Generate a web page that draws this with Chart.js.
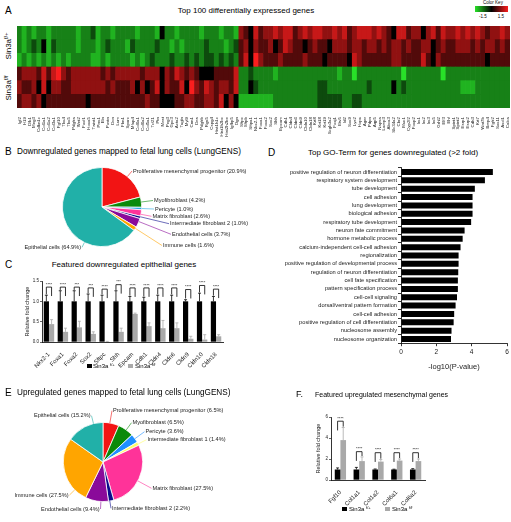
<!DOCTYPE html>
<html>
<head>
<meta charset="utf-8">
<script src="https://cdn.jsdelivr.net/npm/chart.js@4.4.1/dist/chart.umd.min.js"></script>
<style>
  body { margin: 0; background: #fff; }
  #page { position: relative; width: 511px; height: 522px; overflow: hidden; font-family: "Liberation Sans", Arial, sans-serif; color: #000; }
  .t { position: absolute; white-space: nowrap; transform: translateY(-50%); line-height: 1; color: #000; }
  .c { transform: translate(-50%, -50%); }
  .rot { transform: translate(-50%, -50%) rotate(-90deg); }
  canvas { position: absolute; }
  .letter { font-size: 10px; }
  .title { font-size: 8px; }
  .leg { font-size: 6px; }
  sup { font-size: 70%; vertical-align: 0.5em; line-height: 0; }
  .sw { position: absolute; width: 5px; height: 4px; }
</style>
</head>
<body>
<div id="page">
  <!-- Panel A -->
  <div class="t letter" style="left:5px;top:11px">A</div>
  <div class="t title c" style="left:246px;top:11px">Top 100 differentially expressed genes</div>
  <div class="t c" style="left:493px;top:2.5px;font-size:4.5px">Color Key</div>
  <div style="position:absolute;left:475px;top:6px;width:33px;height:6px;background:linear-gradient(to right, rgb(40,225,40), #000 50%, rgb(250,30,30))"></div>
  <div class="t c" style="left:483px;top:17px;font-size:4.5px">-1.5</div>
  <div class="t c" style="left:501px;top:17px;font-size:4.5px">1.5</div>
  <div class="t rot" style="left:9px;top:46px;font-size:8px">Sin3a<sup>f/+</sup></div>
  <div class="t rot" style="left:9px;top:88px;font-size:8px">Sin3a<sup>f/f</sup></div>
  <canvas id="heatChart" width="494" height="120" style="left:17px;top:26px"></canvas>

  <!-- Panel B -->
  <div class="t letter" style="left:5px;top:152px">B</div>
  <div class="t title" style="left:17px;top:152px;font-size:8.2px">Downregulated genes mapped to fetal lung cells (LungGENS)</div>
  <canvas id="pieB" width="260" height="100" style="left:0;top:158px"></canvas>

  <!-- Panel C -->
  <div class="t letter" style="left:5px;top:265px">C</div>
  <div class="t title c" style="left:124px;top:265px">Featured downregulated epithelial genes</div>
  <canvas id="epiChart" width="232" height="96" style="left:0;top:272px"></canvas>
  <div class="sw" style="left:87px;top:364px;background:#000"></div>
  <div class="t leg" style="left:93px;top:366px">Sin3a <sup>f/+</sup></div>
  <div class="sw" style="left:128px;top:364px;background:#a9a9a9"></div>
  <div class="t leg" style="left:135px;top:366px">Sin3a <sup>f/f</sup></div>

  <!-- Panel D -->
  <div class="t letter" style="left:268px;top:153px">D</div>
  <div class="t title c" style="left:393px;top:153px">Top GO-Term for genes downregulated (&gt;2 fold)</div>
  <canvas id="goChart" width="253" height="215" style="left:258px;top:160px"></canvas>

  <!-- Panel E -->
  <div class="t letter" style="left:5px;top:393px">E</div>
  <div class="t title" style="left:17px;top:393px;font-size:8.2px">Upregulated genes mapped to fetal lung cells (LungGENS)</div>
  <canvas id="pieE" width="260" height="122" style="left:0;top:400px"></canvas>

  <!-- Panel F -->
  <div class="t" style="left:296px;top:394px;font-size:9px">F.</div>
  <div class="t title" style="left:315px;top:394px;font-size:7px">Featured upregulated mesenchymal genes</div>
  <canvas id="mesChart" width="130" height="100" style="left:300px;top:408px"></canvas>
  <div class="sw" style="left:342px;top:507px;background:#000"></div>
  <div class="t leg" style="left:349px;top:509px">Sin3a <sup>f/+</sup></div>
  <div class="sw" style="left:385px;top:507px;background:#a9a9a9"></div>
  <div class="t leg" style="left:392px;top:509px">Sin3a <sup>f/f</sup></div>
</div>

<script>
// ---------- Panel A: heatmap (digit 0..8 = -1.5..1.5) ----------
const heatGenes = ['Igf2', 'H19', 'Dlk1', 'Meg3', 'Cdkn1c', 'Col1a1', 'Col1a2', 'Col3a1', 'Fgf10', 'Tbx4',
    'Tbx5', 'Pdgfra', 'Wnt2', 'Foxf1', 'Hoxa5', 'Twist1', 'Prrx1', 'Eln', 'Postn', 'Dcn',
    'Lum', 'Fbn1', 'Sparc', 'Mfap4', 'Col6a1', 'Col6a2', 'Col5a1', 'Tcf21', 'Ptn', 'Mest',
    'Peg3', 'Gpc3', 'Acta2', 'Tagln', 'Myl9', 'Cnn1', 'Des', 'Pdgfrb', 'Rgs5', 'Cspg4',
    'Hist1h1c', 'Hist1h2bc', 'Hist2h2be', 'Igfbp5', 'Ogn',
    'Sftpc', 'Sftpb', 'Sftpa1', 'Nkx2-1', 'Foxa1', 'Foxa2', 'Sox2', 'Shh', 'Epcam', 'Cdh1',
    'Cldn4', 'Cldn6', 'Cldn9', 'Cldn10', 'Cldn18', 'Krt8', 'Krt18', 'Krt19', 'Scgb3a2', 'Foxj1',
    'Etv5', 'Id2', 'Sox9', 'Lyz2', 'Hopx', 'Ager', 'Pdpn', 'Aqp5', 'Napsa', 'Lamp3',
    'Abca3', 'Slc34a2', 'Cbr2', 'Muc1', 'Cyp2f2', 'Foxp2', 'Irx1', 'Irx2', 'Irx3', 'Irx5',
    'Grhl2', 'Elf3', 'Ehf', 'Spint1', 'Spint2', 'Esrp1', 'Esrp2', 'Cdh3', 'Krt7', 'Wnt7b',
    'Bmp4', 'Fgfr2', 'Sox11', 'Ascl1', 'Calca'];
const heatRow1 = '2121221222 2212231221 2222122214 2212222122 2122165475 6676775676 7766767567 7767654775 6646757667 6767656676';
const heatRow2 = '2123241322 2212221232 2213222232 2121222232 2212356465 5645765545 6554666566 5665656656 5566456556 6656566565';
const heatRow3 = '1212121212 1222211212 2221212322 2322323233 2323257486 5556555565 5545555476 5555556655 5575465555 5555545555';
const heatRow4 = '5666575786 5666666565 6666656664 6576565444 5555722322 2212222222 2222212202 2222222202 2222220222 2222222222';
const heatRow5 = '6556474665 5666666656 5556464574 6557486576 5665722432 2222222222 2332222222 2322224232 2222222222 1112222222';
const heatRow6 = '5665645555 5555455555 5555556554 4455665566 5746411111 1122222222 2333332233 2222222222 2222222222 2222222222';

// ---------- Panel B: downregulated genes ----------
const downCells = ['Proliferative mesenchymal progenitor', 'Myofibroblast', 'Pericyte', 'Matrix fibroblast',
    'Intermediate fibroblast 2', 'Endothelial cells', 'Immune cells', 'Epithelial cells'];
const downShares = [20.9, 4.2, 1.0, 2.6, 1.0, 3.7, 1.6, 64.9];

// ---------- Panel C: epithelial genes ----------
const epiGenes = ['Nkx2-1', 'Foxa1', 'Foxa2', 'Sox2', 'Sftpc', 'Shh', 'Epcam', 'Cdh1', 'Cldn4', 'Cldn6', 'Cldn9', 'Cldn10', 'Cldn18'];
const epiHet = [1, 1, 1, 1, 1, 1, 1, 1, 1, 1, 1, 1, 1];
const epiHetErr = [0.15, 0.26, 0.26, 0.18, 0.15, 0.26, 0.12, 0.1, 0.15, 0.15, 0.04, 0.2, 0.12];
const epiKo = [0.44, 0.25, 0.36, 0.2, 0.01, 0.25, 0.69, 0.39, 0.34, 0.34, 0.08, 0.06, 0.14];
const epiKoErr = [0.11, 0.09, 0.15, 0.05, 0.005, 0.09, 0.02, 0.08, 0.19, 0.13, 0.06, 0.12, 0.04];
const epiBracket = [1.35, 1.35, 1.35, 1.33, 1.3, 1.41, 1.33, 1.33, 1.33, 1.33, 1.29, 1.39, 1.3];
const epiStars = ['****', '****', '***', '***', '****', '***', '****', '****', '****', '****', '****', '****', '****'];
const epiTicks = [0, 0.5, 1.0, 1.5];

// ---------- Panel D: GO terms ----------
const goTerms = ['positive regulation of neuron differentiation', 'respiratory system development', 'tube development',
    'cell adhesion', 'lung development', 'biological adhesion', 'respiratory tube development', 'neuron fate commitment',
    'hormone metabolic process', 'calcium-independent cell-cell adhesion', 'regionalization',
    'positive regulation of developmental process', 'regulation of neuron differentiation', 'cell fate specification',
    'pattern specification process', 'cell-cell signaling', 'dorsal/ventral pattern formation', 'cell-cell adhesion',
    'positive regulation of cell differentiation', 'nucleosome assembly', 'nucleosome organization'];
const goScores = [5.2, 4.75, 4.18, 4.05, 4.05, 4.05, 3.97, 3.6, 3.49, 3.37, 3.26, 3.26, 3.24, 3.22, 3.22, 3.17, 3.09, 3.01, 2.98, 2.86, 2.83];
const goTicks = [0, 2, 4, 6];

// ---------- Panel E: upregulated genes ----------
const upCells = ['Proliferative mesenchymal progenitor', 'Myofibroblast', 'Pericyte', 'Intermediate fibroblast 1',
    'Matrix fibroblast', 'Intermediate fibroblast 2', 'Endothelial cells', 'Immune cells', 'Epithelial cells'];
const upShares = [6.5, 6.5, 3.6, 1.4, 27.5, 2.2, 9.4, 27.5, 15.2];

// ---------- Panel F: mesenchymal genes ----------
const mesGenes = ['Fgf10', 'Col1a1', 'Col1a2', 'Col6a1', 'Col6a2'];
const mesHet = [1, 1, 1, 1, 1];
const mesHetErr = [0.15, 0.2, 0.05, 0.03, 0.08];
const mesKo = [3.8, 1.8, 1.75, 1.85, 1.8];
const mesKoErr = [1.2, 0.4, 0.2, 0.15, 0.2];
const mesBracket = [5.6, 2.7, 2.6, 2.6, 2.6];
const mesStars = ['****', '****', '****', '****', '****'];
const mesTicks = [0, 2, 4, 6];

// ---------- styles / layout ----------
const downColors = ['#f21414', '#0a8a0a', '#2aa9e0', '#ff3399', '#0a0a8c', '#8a0a9a', '#ffa500', '#21b0a8'];
const downAnchors = [[133, 171, 'left'], [154, 200.5, 'left'], [155, 209, 'left'], [152.5, 216.3, 'left'],
    [170, 223.7, 'left'], [172, 234.3, 'left'], [163, 245.5, 'left'], [81, 247.3, 'right']];
const upColors = ['#f21414', '#0a8a0a', '#1e90ff', '#ffff66', '#ff3399', '#0a0a8c', '#8a0a9a', '#ffa500', '#21b0a8'];
const upAnchors = [[113, 410.7, 'left'], [132.5, 422.7, 'left'], [145.5, 431.7, 'left'], [147.5, 439.7, 'left'],
    [152.5, 488.3, 'left'], [112, 508.3, 'left'], [99.5, 509, 'right'], [68.5, 495, 'right'], [90.5, 415.7, 'right']];

Chart.defaults.font.family = '"Liberation Sans", Arial, sans-serif';
Chart.defaults.color = '#222';

function heatColor(d) {
    const v = (d - 4) / 4;
    const k = Math.pow(Math.abs(v), 0.8);
    if (v < 0) return `rgb(${Math.round(k * 40)},${Math.round(k * 225)},${Math.round(k * 40)})`;
    return `rgb(${Math.round(k * 250)},${Math.round(k * 30)},${Math.round(k * 30)})`;
}

// fixed axis box size so chart areas land where the figure has them
function fixSize(size) {
    return function(scale) {
        if (scale.isHorizontal()) scale.height = size; else scale.width = size;
        scale.paddingTop = scale.paddingBottom = scale.paddingLeft = scale.paddingRight = 0;
    };
}

function useTicks(list) {
    return function(scale) { scale.ticks = list.map(v => ({ value: v })); };
}

// Error bars (upper only) and significance brackets
const errorBarPlugin = {
    id: 'errorBars',
    afterDatasetsDraw(chart, args, opts) {
        const { ctx } = chart;
        const y = chart.scales.y;
        ctx.save();
        ctx.lineWidth = 0.8;
        chart.data.datasets.forEach((ds, di) => {
            const meta = chart.getDatasetMeta(di);
            ctx.strokeStyle = ds.errorColor;
            meta.data.forEach((bar, i) => {
                const top = y.getPixelForValue(ds.data[i] + ds.errors[i]);
                ctx.beginPath();
                ctx.moveTo(bar.x, bar.y);
                ctx.lineTo(bar.x, top);
                ctx.moveTo(bar.x - opts.cap, top);
                ctx.lineTo(bar.x + opts.cap, top);
                ctx.stroke();
            });
        });
        const m0 = chart.getDatasetMeta(0), m1 = chart.getDatasetMeta(1);
        const d0 = chart.data.datasets[0], d1 = chart.data.datasets[1];
        ctx.strokeStyle = '#000';
        ctx.fillStyle = '#000';
        ctx.font = opts.starFont;
        ctx.textAlign = 'center';
        ctx.textBaseline = 'bottom';
        opts.levels.forEach((lv, i) => {
            const x0 = m0.data[i].x, x1 = m1.data[i].x;
            const yb = y.getPixelForValue(lv);
            const low0 = y.getPixelForValue(Math.max(lv - opts.leg, d0.data[i] + d0.errors[i] + opts.gap));
            const low1 = y.getPixelForValue(Math.max(lv - opts.leg, d1.data[i] + d1.errors[i] + opts.gap));
            ctx.beginPath();
            ctx.moveTo(x0, low0);
            ctx.lineTo(x0, yb);
            ctx.lineTo(x1, yb);
            ctx.lineTo(x1, low1);
            ctx.stroke();
            ctx.fillText(opts.stars[i], (x0 + x1) / 2, yb - 0.5);
        });
        ctx.restore();
    }
};

// Pie labels with leader lines
const pieLabelPlugin = {
    id: 'pieLabels',
    afterDraw(chart, args, opts) {
        const { ctx } = chart;
        const meta = chart.getDatasetMeta(0);
        const ds = chart.data.datasets[0];
        ctx.save();
        ctx.font = opts.font;
        ctx.textBaseline = 'middle';
        ctx.lineWidth = 0.6;
        meta.data.forEach((arc, i) => {
            const p = arc.getProps(['x', 'y', 'startAngle', 'endAngle', 'outerRadius'], true);
            const tx = opts.anchors[i][0] - opts.offsetX;
            const ty = opts.anchors[i][1] - opts.offsetY;
            const side = opts.anchors[i][2];
            const lx = side === 'left' ? tx - 1 : tx + 1;
            const span = p.endAngle - p.startAngle;
            const inset = Math.min(0.05, span / 4);
            let a = Math.atan2(ty - p.y, lx - p.x);
            while (a < p.startAngle) a += 2 * Math.PI;
            while (a >= p.startAngle + 2 * Math.PI) a -= 2 * Math.PI;
            if (a > p.endAngle) {
                a = (a - p.endAngle < p.startAngle + 2 * Math.PI - a) ? p.endAngle : p.startAngle;
            }
            a = Math.min(Math.max(a, p.startAngle + inset), p.endAngle - inset);
            ctx.strokeStyle = ds.backgroundColor[i];
            ctx.beginPath();
            ctx.moveTo(p.x + p.outerRadius * Math.cos(a), p.y + p.outerRadius * Math.sin(a));
            ctx.lineTo(lx, ty);
            ctx.stroke();
            ctx.fillStyle = '#222';
            ctx.textAlign = side;
            ctx.fillText(`${chart.data.labels[i]} (${ds.data[i].toFixed(1)}%)`, tx, ty);
        });
        ctx.restore();
    }
};

const baseOptions = {
    responsive: false,
    animation: false,
    devicePixelRatio: 1,
    events: []
};

// Heatmap as stacked bars, one stack segment per sample row
function initHeatmap() {
    const rows = [heatRow1, heatRow2, heatRow3, heatRow4, heatRow5, heatRow6]
        .map(s => s.replace(/ /g, '').split('').map(Number));
    const datasets = rows.slice().reverse().map(row => ({
        data: row.map(() => 1),
        backgroundColor: row.map(heatColor),
        borderWidth: 0,
        barPercentage: 1,
        categoryPercentage: 1
    }));
    new Chart(document.getElementById('heatChart'), {
        type: 'bar',
        data: { labels: heatGenes, datasets: datasets },
        options: {
            ...baseOptions,
            layout: { padding: { left: 0, right: 1, top: 0, bottom: 0 } },
            plugins: { legend: { display: false }, tooltip: { enabled: false } },
            scales: {
                x: {
                    stacked: true,
                    afterFit: fixSize(38),
                    grid: { display: false },
                    border: { display: false },
                    ticks: { autoSkip: false, minRotation: 90, maxRotation: 90, font: { size: 4.4 }, color: '#222', padding: 1 }
                },
                y: { stacked: true, display: false, min: 0, max: 6 }
            }
        }
    });
}

function initPie(id, labels, values, colors, anchors, pad, offsetY) {
    new Chart(document.getElementById(id), {
        type: 'pie',
        data: {
            labels: labels,
            datasets: [{ data: values, backgroundColor: colors, borderColor: '#fff', borderWidth: 0.8, hoverOffset: 0 }]
        },
        options: {
            ...baseOptions,
            layout: { padding: pad },
            plugins: {
                legend: { display: false },
                tooltip: { enabled: false },
                pieLabels: { anchors: anchors, offsetX: 0, offsetY: offsetY, font: '5.6px "Liberation Sans", Arial, sans-serif' }
            }
        },
        plugins: [pieLabelPlugin]
    });
}

function initFoldChart(id, genes, het, hetErr, ko, koErr, brackets, stars, ticks, maxY, dims) {
    new Chart(document.getElementById(id), {
        type: 'bar',
        data: {
            labels: genes,
            datasets: [
                { data: het, errors: hetErr, backgroundColor: '#000', errorColor: '#000' },
                { data: ko, errors: koErr, backgroundColor: '#a9a9a9', errorColor: '#a9a9a9' }
            ]
        },
        options: {
            ...baseOptions,
            datasets: { bar: { categoryPercentage: dims.catPct, barPercentage: 1 } },
            layout: { padding: { left: 0, right: dims.right, top: dims.top, bottom: 0 } },
            plugins: {
                legend: { display: false },
                tooltip: { enabled: false },
                errorBars: { levels: brackets, stars: stars, cap: 1.5, leg: 0.22 * maxY / 1.5, gap: 0.02 * maxY / 1.5, starFont: '4px "Liberation Sans", Arial, sans-serif' }
            },
            scales: {
                x: {
                    afterFit: fixSize(dims.xh),
                    grid: { display: false },
                    border: { color: '#000', width: 0.8 },
                    ticks: { autoSkip: false, minRotation: 45, maxRotation: 45, font: { size: 6 }, color: '#222', padding: 1 }
                },
                y: {
                    min: 0,
                    max: maxY,
                    afterBuildTicks: useTicks(ticks),
                    afterFit: fixSize(dims.yw),
                    grid: { drawOnChartArea: false, tickLength: 2, color: '#000', lineWidth: 0.6 },
                    border: { color: '#000', width: 0.8 },
                    ticks: { font: { size: 4.5 }, color: '#222', padding: 1, callback: v => dims.dec ? v.toFixed(1) : String(v) },
                    title: { display: true, text: 'Relative fold change', font: { size: 5.5 }, color: '#222', padding: { top: dims.titlePad, bottom: 0 } }
                }
            }
        },
        plugins: [errorBarPlugin]
    });
}

function initGoChart() {
    new Chart(document.getElementById('goChart'), {
        type: 'bar',
        data: { labels: goTerms, datasets: [{ data: goScores, backgroundColor: '#000', barPercentage: 0.72, categoryPercentage: 1 }] },
        options: {
            ...baseOptions,
            indexAxis: 'y',
            layout: { padding: { left: 0, right: 4, top: 7.8, bottom: 0 } },
            plugins: { legend: { display: false }, tooltip: { enabled: false } },
            scales: {
                x: {
                    min: 0,
                    max: 6,
                    afterBuildTicks: useTicks(goTicks),
                    afterFit: fixSize(31.8),
                    grid: { drawOnChartArea: false, tickLength: 3, color: '#000', lineWidth: 0.8 },
                    border: { color: '#000', width: 0.8 },
                    ticks: { font: { size: 6.5 }, color: '#222', padding: 2 },
                    title: { display: true, text: '-log10(P-value)', font: { size: 7.5 }, color: '#222', padding: { top: 0, bottom: 3.5 } }
                },
                y: {
                    afterFit: fixSize(143),
                    grid: { drawOnChartArea: false, tickLength: 3, color: '#000', lineWidth: 0.8 },
                    border: { color: '#000', width: 0.8 },
                    ticks: { autoSkip: false, font: { size: 5.7 }, color: '#222', padding: 1 }
                }
            }
        }
    });
}

initHeatmap();
initPie('pieB', downCells, downShares, downColors, downAnchors, { left: 62, right: 118, top: 9, bottom: 11 }, 158);
initFoldChart('epiChart', epiGenes, epiHet, epiHetErr, epiKo, epiKoErr, epiBracket, epiStars, epiTicks, 1.5,
    { catPct: 0.75, right: 9, top: 9, xh: 26, yw: 42, titlePad: 23.7, dec: true });
initGoChart();
initPie('pieE', upCells, upShares, upColors, upAnchors, { left: 63, right: 117, top: 22, bottom: 20 }, 400);
initFoldChart('mesChart', mesGenes, mesHet, mesHetErr, mesKo, mesKoErr, mesBracket, mesStars, mesTicks, 6,
    { catPct: 0.6, right: 5, top: 9, xh: 28, yw: 31, titlePad: 14.7, dec: false });
</script>
</body>
</html>
